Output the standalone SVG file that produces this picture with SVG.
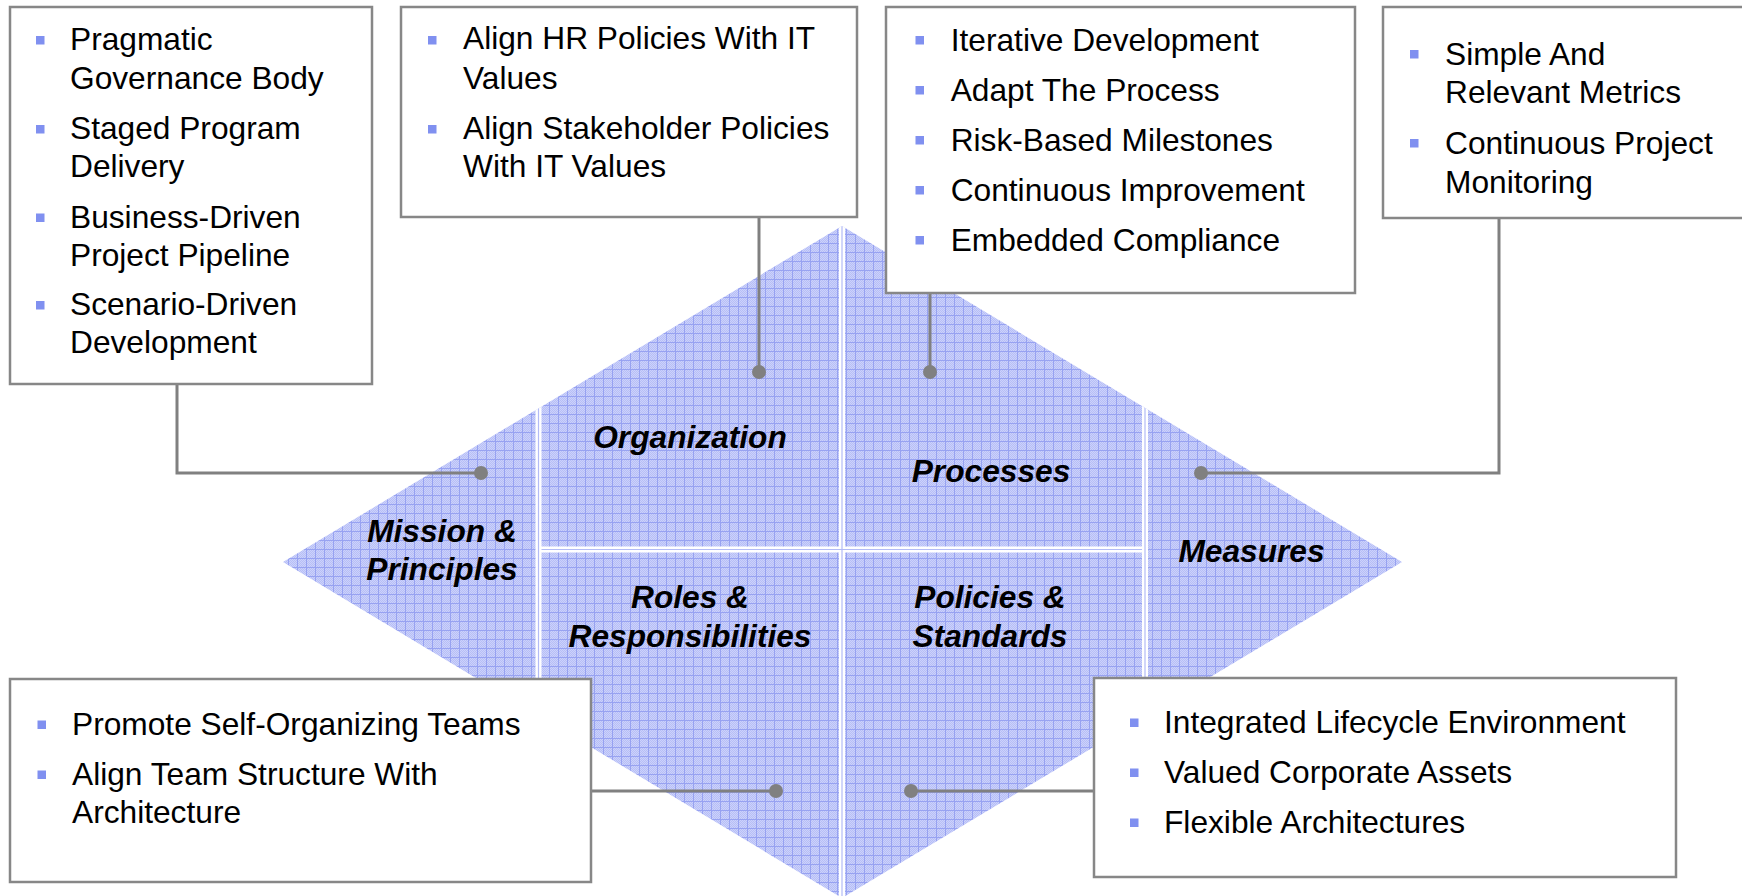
<svg xmlns="http://www.w3.org/2000/svg" width="1742" height="896" viewBox="0 0 1742 896">
<style>
.box{fill:#fff;stroke:#878787;stroke-width:2.5}
.t{font-family:"Liberation Sans",Arial,sans-serif;font-size:31.7px;fill:#000}
.lbl{font-family:"Liberation Sans",Arial,sans-serif;font-size:31.7px;font-weight:bold;font-style:italic;fill:#000;text-anchor:middle}
.b{fill:#8090F0}
.con{fill:none;stroke:#808080;stroke-width:3}
.dot{fill:#808080}
.sepw{stroke:#fff;stroke-width:6}
.sepb{stroke:#b3bbf6;stroke-width:1.2}
</style>
<defs>
<pattern id="dith" width="2" height="2" patternUnits="userSpaceOnUse">
<rect width="2" height="2" fill="#ccd2fa"/>
<rect width="1" height="1" fill="#b6bef7"/>
<rect x="1" y="1" width="1" height="1" fill="#b6bef7"/>
</pattern>
<pattern id="grid" width="9" height="9" patternUnits="userSpaceOnUse">
<rect width="9" height="9" fill="url(#dith)"/>
<rect width="1" height="9" fill="#97a2f1"/>
<rect width="9" height="1" fill="#97a2f1"/>
</pattern>
<clipPath id="dclip"><polygon points="842,226 1402,562 842,898 283,562"/></clipPath>
</defs>
<g id="diamond">
<polygon points="842,226 1402,562 842,898 283,562" fill="url(#grid)"/>
<g clip-path="url(#dclip)">
<line class="sepw" x1="538.5" y1="200" x2="538.5" y2="900"/>
<line class="sepw" x1="842" y1="200" x2="842" y2="900"/>
<line class="sepw" x1="1145" y1="200" x2="1145" y2="900"/>
<line class="sepw" x1="538.5" y1="549.5" x2="1145" y2="549.5"/>
<line class="sepb" x1="538.5" y1="200" x2="538.5" y2="900"/>
<line class="sepb" x1="842" y1="200" x2="842" y2="900"/>
<line class="sepb" x1="1145" y1="200" x2="1145" y2="900"/>
<line class="sepb" x1="541.5" y1="549.5" x2="1142" y2="549.5"/>
</g>
<text class="lbl" x="442" y="541.7">Mission &amp;</text>
<text class="lbl" x="442" y="580">Principles</text>
<text class="lbl" x="690" y="448">Organization</text>
<text class="lbl" x="690" y="608.3">Roles &amp;</text>
<text class="lbl" x="690" y="646.7">Responsibilities</text>
<text class="lbl" x="991" y="481.7">Processes</text>
<text class="lbl" x="990" y="608.3">Policies &amp;</text>
<text class="lbl" x="990" y="646.7">Standards</text>
<text class="lbl" x="1251.5" y="561.7">Measures</text>
</g>
<g id="connectors">
<polyline class="con" points="177,384 177,473 481,473"/>
<polyline class="con" points="759,217 759,372"/>
<polyline class="con" points="930,293 930,372"/>
<polyline class="con" points="1499,218 1499,473 1201,473"/>
<polyline class="con" points="591,791 776,791"/>
<polyline class="con" points="1094,791 911,791"/>
<circle class="dot" cx="481" cy="473" r="7"/>
<circle class="dot" cx="759" cy="372" r="7"/>
<circle class="dot" cx="930" cy="372" r="7"/>
<circle class="dot" cx="1201" cy="473" r="7"/>
<circle class="dot" cx="776" cy="791" r="7"/>
<circle class="dot" cx="911" cy="791" r="7"/>
</g>
<g id="box1">
<rect class="box" x="10" y="7" width="362" height="377"/>
<rect class="b" x="36" y="36" width="8.5" height="8.5"/>
<rect class="b" x="36" y="125" width="8.5" height="8.5"/>
<rect class="b" x="36" y="213.5" width="8.5" height="8.5"/>
<rect class="b" x="36" y="301" width="8.5" height="8.5"/>
<text class="t" x="70" y="50">Pragmatic</text>
<text class="t" x="70" y="89">Governance Body</text>
<text class="t" x="70" y="139">Staged Program</text>
<text class="t" x="70" y="177.3">Delivery</text>
<text class="t" x="70" y="227.5">Business-Driven</text>
<text class="t" x="70" y="265.7">Project Pipeline</text>
<text class="t" x="70" y="315">Scenario-Driven</text>
<text class="t" x="70" y="353.3">Development</text>
</g>
<g id="box2">
<rect class="box" x="401" y="7" width="456" height="210"/>
<rect class="b" x="428" y="36" width="8.5" height="8.5"/>
<rect class="b" x="428" y="125" width="8.5" height="8.5"/>
<text class="t" x="463" y="49">Align HR Policies With IT</text>
<text class="t" x="463" y="88.5">Values</text>
<text class="t" x="463" y="139">Align Stakeholder Policies</text>
<text class="t" x="463" y="177">With IT Values</text>
</g>
<g id="box3">
<rect class="box" x="886" y="7" width="469" height="286"/>
<rect class="b" x="915.5" y="36" width="8.5" height="8.5"/>
<rect class="b" x="915.5" y="86" width="8.5" height="8.5"/>
<rect class="b" x="915.5" y="136" width="8.5" height="8.5"/>
<rect class="b" x="915.5" y="186" width="8.5" height="8.5"/>
<rect class="b" x="915.5" y="236" width="8.5" height="8.5"/>
<text class="t" x="950.7" y="50.7">Iterative Development</text>
<text class="t" x="950.7" y="100.5">Adapt The Process</text>
<text class="t" x="950.7" y="150.5">Risk-Based Milestones</text>
<text class="t" x="950.7" y="200.5">Continuous Improvement</text>
<text class="t" x="950.7" y="250.5">Embedded Compliance</text>
</g>
<g id="box4">
<rect class="box" x="1383" y="7" width="380" height="211"/>
<rect class="b" x="1410" y="50" width="8.5" height="8.5"/>
<rect class="b" x="1410" y="139" width="8.5" height="8.5"/>
<text class="t" x="1445" y="65">Simple And</text>
<text class="t" x="1445" y="103.3">Relevant Metrics</text>
<text class="t" x="1445" y="154">Continuous Project</text>
<text class="t" x="1445" y="192.7">Monitoring</text>
</g>
<g id="box5">
<rect class="box" x="10" y="679" width="581" height="203"/>
<rect class="b" x="37.5" y="720.5" width="8.5" height="8.5"/>
<rect class="b" x="37.5" y="770.5" width="8.5" height="8.5"/>
<text class="t" x="72" y="735">Promote Self-Organizing Teams</text>
<text class="t" x="72" y="785">Align Team Structure With</text>
<text class="t" x="72" y="823.3">Architecture</text>
</g>
<g id="box6">
<rect class="box" x="1094" y="678" width="582" height="199"/>
<rect class="b" x="1130" y="718.5" width="8.5" height="8.5"/>
<rect class="b" x="1130" y="768.5" width="8.5" height="8.5"/>
<rect class="b" x="1130" y="818.5" width="8.5" height="8.5"/>
<text class="t" x="1164" y="733.3">Integrated Lifecycle Environment</text>
<text class="t" x="1164" y="783.3">Valued Corporate Assets</text>
<text class="t" x="1164" y="833.3">Flexible Architectures</text>
</g>
</svg>
